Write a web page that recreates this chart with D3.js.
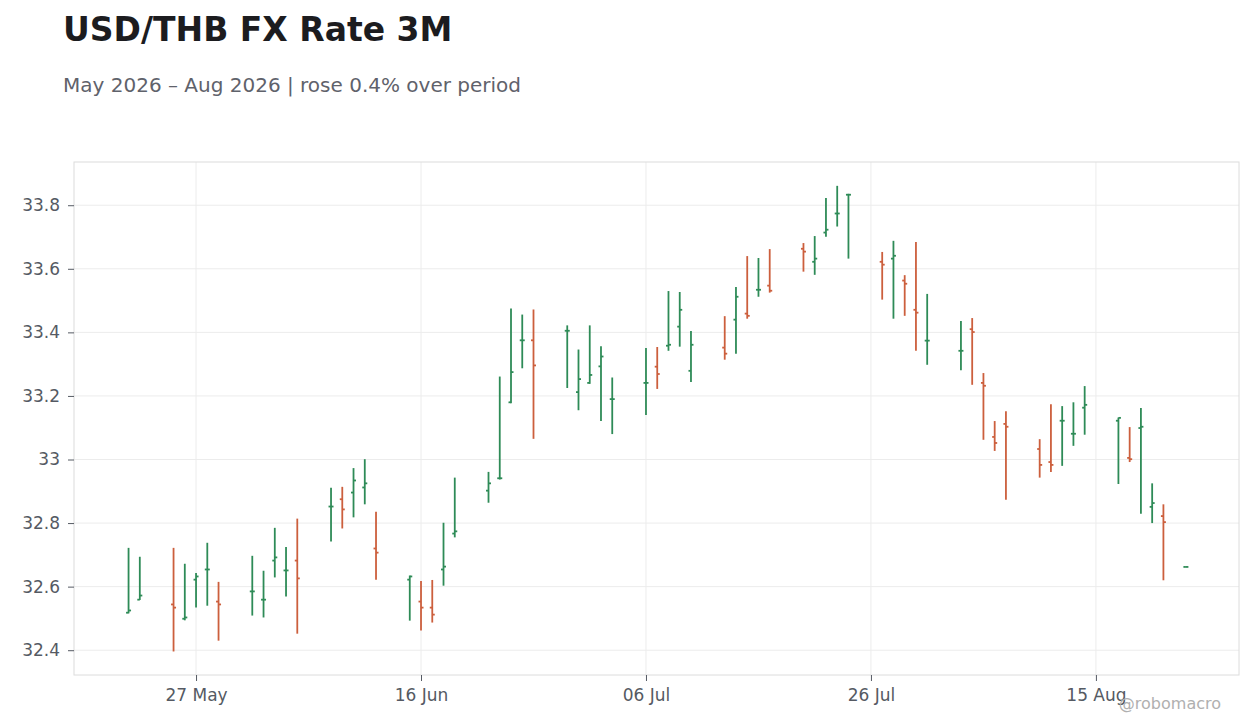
<!DOCTYPE html>
<html>
<head>
<meta charset="utf-8">
<script src="https://cdn.jsdelivr.net/npm/d3@7/dist/d3.min.js"></script>
<style>
  body { margin: 0; background: #fff; }
  svg { font-family: "DejaVu Sans", sans-serif; }
</style>
</head>
<body>
<svg id="chart" width="1260" height="728"></svg>
<script>
/*globals d3:true */

// trading days, USD/THB
var dates = [
    '2026-05-21', '2026-05-22', '2026-05-25', '2026-05-26', '2026-05-27', '2026-05-28', '2026-05-29',
    '2026-06-01', '2026-06-02', '2026-06-03', '2026-06-04', '2026-06-05',
    '2026-06-08', '2026-06-09', '2026-06-10', '2026-06-11', '2026-06-12',
    '2026-06-15', '2026-06-16', '2026-06-17', '2026-06-18', '2026-06-19',
    '2026-06-22', '2026-06-23', '2026-06-24', '2026-06-25', '2026-06-26',
    '2026-06-29', '2026-06-30', '2026-07-01', '2026-07-02', '2026-07-03',
    '2026-07-06', '2026-07-07', '2026-07-08', '2026-07-09', '2026-07-10',
    '2026-07-13', '2026-07-14', '2026-07-15', '2026-07-16', '2026-07-17',
    '2026-07-20', '2026-07-21', '2026-07-22', '2026-07-23', '2026-07-24',
    '2026-07-27', '2026-07-28', '2026-07-29', '2026-07-30', '2026-07-31',
    '2026-08-03', '2026-08-04', '2026-08-05', '2026-08-06', '2026-08-07',
    '2026-08-10', '2026-08-11', '2026-08-12', '2026-08-13', '2026-08-14',
    '2026-08-17', '2026-08-18', '2026-08-19', '2026-08-20', '2026-08-21',
    '2026-08-23'
];

var open = [
    32.518, 32.559, 32.544, 32.499, 32.622, 32.654, 32.553,
    32.585, 32.559, 32.682, 32.651, 32.682,
    32.852, 32.875, 32.896, 32.912, 32.720,
    32.622, 32.553, 32.534, 32.654, 32.767,
    32.902, 32.941, 33.180, 33.375, 33.375,
    33.405, 33.212, 33.241, 33.293, 33.190,
    33.241, 33.292, 33.358, 33.418, 33.279,
    33.352, 33.440, 33.459, 33.534, 33.547,
    33.663, 33.622, 33.714, 33.774, 33.833,
    33.622, 33.632, 33.563, 33.471, 33.374,
    33.342, 33.410, 33.241, 33.071, 33.112,
    33.033, 32.992, 33.122, 33.081, 33.163,
    33.122, 33.005, 33.099, 32.851, 32.822,
    32.662
];

var high = [
    32.722, 32.694, 32.722, 32.672, 32.643, 32.738, 32.615,
    32.697, 32.650, 32.785, 32.725, 32.814,
    32.911, 32.914, 32.973, 33.001, 32.836,
    32.635, 32.618, 32.621, 32.801, 32.943,
    32.961, 33.261, 33.475, 33.456, 33.472,
    33.422, 33.346, 33.422, 33.356, 33.258,
    33.351, 33.354, 33.530, 33.527, 33.404,
    33.451, 33.543, 33.640, 33.634, 33.662,
    33.681, 33.703, 33.823, 33.861, 33.836,
    33.653, 33.688, 33.580, 33.684, 33.521,
    33.436, 33.445, 33.272, 33.121, 33.152,
    33.064, 33.174, 33.168, 33.180, 33.231,
    33.132, 33.102, 33.162, 32.925, 32.859,
    32.662
];

var low = [
    32.516, 32.558, 32.396, 32.494, 32.534, 32.540, 32.430,
    32.509, 32.503, 32.629, 32.569, 32.452,
    32.742, 32.783, 32.818, 32.859, 32.622,
    32.493, 32.462, 32.487, 32.603, 32.755,
    32.864, 32.937, 33.177, 33.287, 33.065,
    33.225, 33.155, 33.238, 33.121, 33.080,
    33.140, 33.222, 33.342, 33.355, 33.244,
    33.314, 33.333, 33.443, 33.512, 33.525,
    33.591, 33.581, 33.701, 33.733, 33.632,
    33.503, 33.443, 33.452, 33.342, 33.298,
    33.281, 33.235, 33.062, 33.027, 32.873,
    32.943, 32.961, 32.980, 33.043, 33.078,
    32.923, 32.992, 32.829, 32.800, 32.620,
    32.662
];

var close = [
    32.525, 32.572, 32.534, 32.503, 32.632, 32.654, 32.544,
    32.585, 32.559, 32.692, 32.651, 32.626,
    32.852, 32.843, 32.934, 32.925, 32.707,
    32.632, 32.534, 32.512, 32.663, 32.774,
    32.925, 32.941, 33.275, 33.375, 33.296,
    33.405, 33.253, 33.266, 33.324, 33.190,
    33.241, 33.269, 33.361, 33.471, 33.361,
    33.333, 33.512, 33.452, 33.534, 33.531,
    33.654, 33.632, 33.723, 33.774, 33.833,
    33.613, 33.641, 33.553, 33.462, 33.374,
    33.342, 33.401, 33.232, 33.052, 33.103,
    32.983, 32.983, 33.122, 33.081, 33.172,
    33.131, 33.001, 33.103, 32.863, 32.803,
    32.662
];

var xTickDates = ['2026-05-27', '2026-06-16', '2026-07-06', '2026-07-26', '2026-08-15'];
var yTickValues = [32.4, 32.6, 32.8, 33.0, 33.2, 33.4, 33.6, 33.8];

var titleText = 'USD/THB FX Rate 3M';
var subtitleText = 'May 2026 \u2013 Aug 2026 | rose 0.4% over period';
var creditText = '@robomacro';

var UP = '#2e8b57';
var DOWN = '#cc5f3d';
var DAY = 864e5;

var parse = d3.utcParse('%Y-%m-%d');

var bars = dates.map(function (d, i) {
    return { date: parse(d), o: open[i], h: high[i], l: low[i], c: close[i] };
});

var svg = d3.select('#chart');
var plot = { left: 74, right: 1239, top: 162, bottom: 675 };

var x = d3.scaleUtc()
    .domain([new Date(parse('2026-05-27').getTime() - 10.85 * DAY),
             new Date(parse('2026-08-15').getTime() + 12.72 * DAY)])
    .range([plot.left, plot.right]);

var y = d3.scaleLinear()
    .domain([32.322, 33.936])
    .range([plot.bottom, plot.top]);

// grid
var grid = svg.append('g').attr('class', 'grid');

grid.selectAll('line.h').data(yTickValues).enter().append('line')
    .attr('x1', plot.left).attr('x2', plot.right)
    .attr('y1', function (v) { return y(v); })
    .attr('y2', function (v) { return y(v); })
    .attr('stroke', '#ececec').attr('stroke-width', 1);

grid.selectAll('line.v').data(xTickDates.map(parse)).enter().append('line')
    .attr('y1', plot.top).attr('y2', plot.bottom)
    .attr('x1', function (d) { return x(d); })
    .attr('x2', function (d) { return x(d); })
    .attr('stroke', '#ececec').attr('stroke-width', 1);

svg.append('rect')
    .attr('x', plot.left).attr('y', plot.top)
    .attr('width', plot.right - plot.left)
    .attr('height', plot.bottom - plot.top)
    .attr('fill', 'none').attr('stroke', '#dcdcdc').attr('stroke-width', 1);

// axes
var xAxis = d3.axisBottom(x)
    .tickValues(xTickDates.map(parse))
    .tickFormat(d3.utcFormat('%d %b'))
    .tickSize(6).tickPadding(8);

var yAxis = d3.axisLeft(y)
    .tickValues(yTickValues)
    .tickFormat(function (v) { return String(+v.toFixed(1)); })
    .tickSize(6).tickPadding(8);

function styleAxis(g) {
    g.select('.domain').remove();
    g.selectAll('.tick line').attr('stroke', '#555a63');
    g.selectAll('.tick text')
        .attr('fill', '#555a63')
        .style('font-size', '17px')
        .style('font-family', '"DejaVu Sans", sans-serif');
}

svg.append('g')
    .attr('transform', 'translate(0,' + plot.bottom + ')')
    .call(xAxis).call(styleAxis);

svg.append('g')
    .attr('transform', 'translate(' + plot.left + ',0)')
    .call(yAxis).call(styleAxis);

// ohlc bars
var tick = 2.5;
var ohlc = svg.append('g').attr('class', 'ohlc')
    .selectAll('g').data(bars).enter().append('g')
    .attr('stroke', function (b) { return b.c >= b.o ? UP : DOWN; })
    .attr('stroke-width', 1.8);

ohlc.append('line')
    .attr('x1', function (b) { return x(b.date); })
    .attr('x2', function (b) { return x(b.date); })
    .attr('y1', function (b) { return y(b.h); })
    .attr('y2', function (b) { return y(b.l); });

ohlc.append('line')
    .attr('x1', function (b) { return x(b.date) - tick; })
    .attr('x2', function (b) { return x(b.date); })
    .attr('y1', function (b) { return y(b.o); })
    .attr('y2', function (b) { return y(b.o); });

ohlc.append('line')
    .attr('x1', function (b) { return x(b.date); })
    .attr('x2', function (b) { return x(b.date) + tick; })
    .attr('y1', function (b) { return y(b.c); })
    .attr('y2', function (b) { return y(b.c); });

// titles
svg.append('text')
    .attr('x', 63).attr('y', 41)
    .attr('fill', '#1c1c1f')
    .style('font-size', '33px').style('font-weight', 'bold')
    .text(titleText);

svg.append('text')
    .attr('x', 63).attr('y', 92)
    .attr('fill', '#5f626b')
    .style('font-size', '20px')
    .text(subtitleText);

svg.append('text')
    .attr('x', 1221).attr('y', 709)
    .attr('text-anchor', 'end')
    .attr('fill', '#b0b0b0')
    .style('font-size', '16px')
    .text(creditText);
</script>
</body>
</html>
